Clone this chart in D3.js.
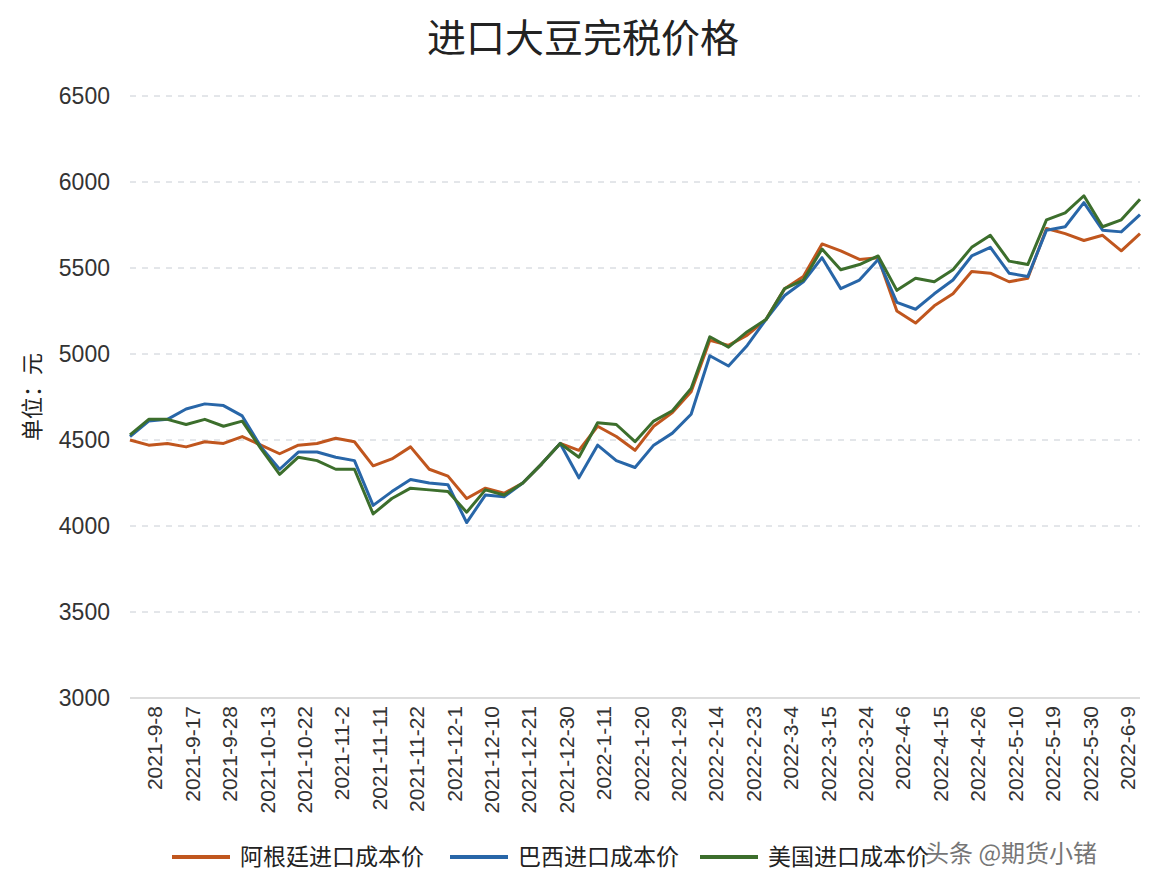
<!DOCTYPE html>
<html><head><meta charset="utf-8">
<script src="https://cdn.jsdelivr.net/npm/d3@7"></script>
<style>body{margin:0;background:#fff;font-family:"Noto Sans CJK SC","Noto Sans",sans-serif}</style>
</head><body>
<script>
var tickLabels = ["2021-9-8","2021-9-17","2021-9-28","2021-10-13","2021-10-22","2021-11-2","2021-11-11","2021-11-22","2021-12-1","2021-12-10","2021-12-21","2021-12-30","2022-1-11","2022-1-20","2022-1-29","2022-2-14","2022-2-23","2022-3-4","2022-3-15","2022-3-24","2022-4-6","2022-4-15","2022-4-26","2022-5-10","2022-5-19","2022-5-30","2022-6-9"];
var seriesNames = ["阿根廷进口成本价","巴西进口成本价","美国进口成本价"];
var argentina = [4500,4470,4480,4460,4490,4480,4520,4470,4420,4470,4480,4510,4490,4350,4390,4460,4330,4290,4160,4220,4190,4250,4360,4480,4440,4580,4520,4440,4580,4660,4780,5080,5050,5110,5200,5380,5450,5640,5600,5550,5560,5250,5180,5280,5350,5480,5470,5420,5440,5730,5700,5660,5690,5600,5700];
var brazil = [4520,4610,4620,4680,4710,4700,4640,4460,4330,4430,4430,4400,4380,4120,4200,4270,4250,4240,4020,4180,4170,4250,4360,4480,4280,4470,4380,4340,4470,4540,4650,4990,4930,5050,5200,5340,5420,5560,5380,5430,5550,5300,5260,5350,5430,5570,5620,5470,5450,5720,5740,5880,5720,5710,5810];
var usa = [4530,4620,4620,4590,4620,4580,4610,4450,4300,4400,4380,4330,4330,4070,4160,4220,4210,4200,4080,4210,4180,4250,4360,4480,4400,4600,4590,4490,4610,4670,4800,5100,5040,5130,5200,5380,5430,5610,5490,5520,5570,5370,5440,5420,5490,5620,5690,5540,5520,5780,5820,5920,5740,5780,5900];
var yTicks = [3000,3500,4000,4500,5000,5500,6000,6500];
var colors = ["#c0561e","#2866a8","#3c6e2c"];

var svg = d3.select("body").append("svg").attr("width",1162).attr("height",892);
var x = d3.scaleLinear().domain([0, argentina.length-1]).range([130,1140]);
var y = d3.scaleLinear().domain([3000,6500]).range([698,96]);

svg.append("text").attr("x",583).attr("y",52).attr("text-anchor","middle")
  .attr("font-size",39).attr("fill","#222").text("进口大豆完税价格");

svg.selectAll(".grid").data(yTicks.slice(1)).enter().append("line")
  .attr("x1",130).attr("x2",1140).attr("y1",d=>y(d)).attr("y2",d=>y(d))
  .attr("stroke","#c8cdd4").attr("stroke-dasharray","6,6");
svg.append("line").attr("x1",130).attr("x2",1140).attr("y1",y(3000)).attr("y2",y(3000)).attr("stroke","#bbb");

svg.selectAll(".yl").data(yTicks).enter().append("text")
  .attr("x",110).attr("y",d=>y(d)+8).attr("text-anchor","end")
  .attr("font-size",23).attr("fill","#333").attr("font-family","Liberation Sans, sans-serif").text(d=>d);

svg.append("text").attr("transform","translate(40,397) rotate(-90)").attr("text-anchor","middle")
  .attr("font-size",22).attr("fill","#222").text("单位：元");

svg.selectAll(".xl").data(tickLabels).enter().append("text")
  .attr("transform",(d,i)=>"translate("+(x(1.3+2*i)+8)+",706) rotate(-90)")
  .attr("text-anchor","end").attr("font-size",21).attr("fill","#333")
  .attr("font-family","Liberation Sans, sans-serif").text(d=>d);

var line = d3.line().x((d,i)=>x(i)).y(d=>y(d));
[argentina,brazil,usa].forEach(function(s,k){
  svg.append("path").datum(s).attr("d",line).attr("fill","none")
    .attr("stroke",colors[k]).attr("stroke-width",3).attr("stroke-linejoin","round");
});

var lx = [172,450,700];
seriesNames.forEach(function(n,k){
  svg.append("line").attr("x1",lx[k]).attr("x2",lx[k]+58).attr("y1",857).attr("y2",857)
    .attr("stroke",colors[k]).attr("stroke-width",4);
  svg.append("text").attr("x",lx[k]+68).attr("y",865).attr("font-size",23).attr("fill","#222").text(n);
});

svg.append("text").attr("x",925).attr("y",862).attr("font-size",24).attr("fill","#555").attr("opacity",0.8).text("头条 @期货小锗");
</script>
</body></html>
